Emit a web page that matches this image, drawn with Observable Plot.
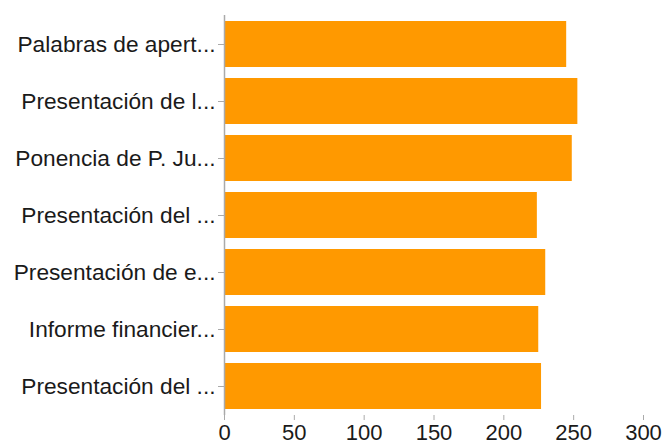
<!DOCTYPE html>
<html>
<head>
<meta charset="utf-8">
<script src="https://cdn.jsdelivr.net/npm/d3@7"></script>
<script src="https://cdn.jsdelivr.net/npm/@observablehq/plot@0.6"></script>
<style>
  html, body { margin: 0; padding: 0; background: #fff; }
</style>
</head>
<body>
<div id="chart"></div>
<script>
const labels = [
  "Palabras de apert...",
  "Presentación de l...",
  "Ponencia de P. Ju...",
  "Presentación del ...",
  "Presentación de e...",
  "Informe financier...",
  "Presentación del ..."
];
const values = [245, 253, 249, 224, 230, 225, 227];
const xTicks = [0, 50, 100, 150, 200, 250, 300];

const data = labels.map((label, i) => ({i, label, value: values[i]}));

const chart = Plot.plot({
  width: 663,
  height: 447,
  marginLeft: 224,
  marginRight: 20,
  marginTop: 15,
  marginBottom: 32,
  style: {fontFamily: "'Liberation Sans', Arial, Helvetica, sans-serif", fontSize: "21px", color: "#1a1a1a", background: "#fff"},
  x: {domain: [0, 300], ticks: xTicks},
  y: {domain: d3.range(labels.length), paddingInner: 0.2, paddingOuter: 0.1},
  marks: [
    Plot.barX(data, {x: "value", y: "i", fill: "#FF9900"}),
    Plot.ruleX([0], {stroke: "#aaa", strokeWidth: 1.5}),
    Plot.axisY({tickSize: 6, tickPadding: 3, stroke: "#aaa", fill: "#1a1a1a", label: null, fontSize: 22.7, tickFormat: i => labels[i]}),
    Plot.axisX({tickSize: 5, tickPadding: 4, stroke: "#aaa", fill: "#1a1a1a", label: null, fontSize: 22, line: true, ticks: xTicks})
  ]
});
document.getElementById("chart").appendChild(chart);
</script>
</body>
</html>
